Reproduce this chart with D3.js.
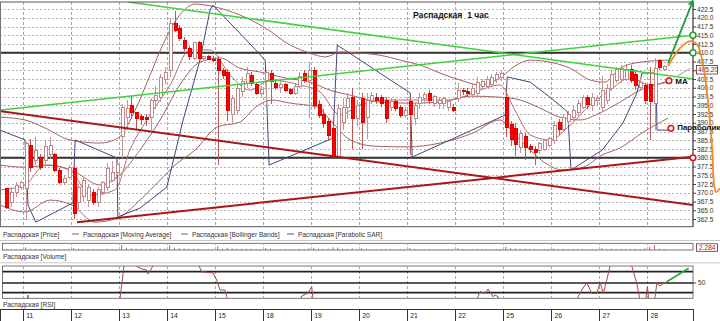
<!DOCTYPE html>
<html><head><meta charset="utf-8">
<script src="https://cdn.jsdelivr.net/npm/d3@7/dist/d3.min.js"></script>
<style>body{margin:0;background:#fff}svg{display:block;font-family:"Liberation Sans",Arial,sans-serif}</style>
</head><body><svg id="c" width="720" height="321"></svg>
<script>
// ---------------- data ----------------
const title = "Распадская  1 час";
const dayLabels = ["11","12","13","14","15","18","19","20","21","22","25","26","27","28"];
const barsPerDay = 10;
const firstSlot = -4;
const priceTicks = [362.5,365,367.5,370,372.5,375,377.5,380,382.5,385,387.5,390,392.5,395,397.5,400,402.5,405,407.5,410,412.5,415,417.5,420,422.5];
const lastPrice = 405.20;
const lastVolume = "2.284";
// candles: [open, high, low, close]
const ohlc = [
 [371.3,371.5,365.5,365.9],[367.1,371.6,365.9,370.2],[370.2,373.1,368.8,372.2],[371.5,373.3,370.8,372.8],
 // 11
 [371.3,384.5,362.2,384.2],[383.6,385.5,376.0,377.2],[379.3,385.9,377.9,382.2],[380.2,381.0,376.5,377.3],[379.3,385.1,377.0,383.1],
 [380.8,385.9,379.6,383.6],[380.8,381.5,375.8,376.5],[376.5,377.0,372.5,373.0],[373.0,375.0,372.2,374.2],[374.5,377.8,374.0,377.2],
 // 12
 [377.0,378.5,362.6,364.2],[367.1,372.5,365.3,371.6],[368.8,374.5,367.5,373.6],[367.9,372.5,365.9,371.6],[370.2,371.0,366.5,367.1],
 [367.1,371.6,365.9,370.8],[370.2,373.5,369.5,372.8],[371.6,378.5,370.5,377.0],[373.6,379.0,373.0,375.9],[375.9,379.5,375.0,378.0],
 // 13
 [386.0,395.5,380.0,394.5],[391.6,396.5,388.0,394.2],[395.0,397.7,391.0,392.8],[392.8,393.0,388.0,391.3],[391.9,392.5,389.5,391.0],
 [391.6,392.5,389.0,390.8],[391.6,397.0,388.0,396.5],[396.5,400.5,394.0,397.9],[397.3,404.0,396.0,402.8],[402.5,406.0,401.0,404.5],
 // 14
 [405.0,420.0,403.0,418.5],[418.5,422.0,416.0,416.5],[417.0,418.0,413.5,414.2],[413.5,414.5,410.5,411.3],[411.3,412.0,408.0,408.8],
 [408.5,413.0,408.0,412.8],[412.8,413.5,408.0,408.5],[408.5,409.2,407.8,408.8],[408.8,409.5,408.0,408.2],[408.2,409.0,407.5,408.0],
 // 15
 [408.0,409.0,378.0,404.8],[404.8,405.6,402.5,403.5],[404.5,405.5,390.5,393.6],[392.5,398.0,390.0,397.0],[393.6,401.0,392.5,399.9],
 [399.0,403.0,397.5,401.8],[401.3,406.0,400.0,404.2],[403.6,404.5,400.5,401.3],[400.8,401.5,397.8,398.5],[398.5,400.5,397.5,399.5],
 // 18
 [402.0,405.0,395.5,404.5],[404.0,405.0,395.5,401.8],[401.3,402.5,399.5,400.0],[400.0,402.0,398.5,401.0],[400.8,401.5,398.8,399.3],
 [399.5,400.0,397.8,398.5],[398.5,401.5,398.0,400.5],[400.5,404.5,400.0,403.3],[404.0,405.0,401.5,402.2],[402.2,407.5,391.5,405.0],
 // 19
 [405.0,406.0,394.0,394.8],[395.3,396.5,391.5,392.2],[392.5,394.0,388.5,389.8],[390.5,391.5,385.0,386.3],[388.5,389.5,380.0,380.5],
 [380.5,395.5,380.0,394.2],[390.2,397.0,388.0,394.5],[394.5,398.5,391.0,397.0],[397.3,400.0,382.5,391.3],[391.3,396.5,389.0,395.0],
 // 20
 [397.0,398.5,382.5,390.2],[391.5,398.5,385.5,396.5],[396.5,398.8,395.5,397.8],[397.3,398.5,395.5,396.5],[397.3,398.0,394.5,395.5],
 [396.5,397.5,390.0,391.3],[394.5,397.0,393.5,396.0],[396.0,396.8,393.5,394.2],[394.5,395.2,391.5,392.2],[392.2,394.5,391.5,393.5],
 // 21
 [396.0,397.5,380.8,392.5],[391.3,396.0,389.5,395.0],[395.5,398.5,394.0,397.3],[397.0,398.8,395.5,398.0],[398.5,399.5,395.5,396.5],
 [395.5,398.0,394.5,397.5],[395.5,397.5,394.0,396.5],[395.5,397.5,394.0,397.0],[394.5,396.5,393.5,396.0],[394.5,395.5,393.0,393.5],
 // 22
 [397.0,401.3,396.0,399.3],[399.3,400.0,398.0,398.8],[399.0,399.8,397.5,398.3],[398.2,401.0,397.5,399.8],[398.5,403.0,397.5,401.6],
 [400.5,402.5,399.5,401.8],[400.5,403.5,400.0,402.5],[401.0,404.0,400.5,403.0],[402.5,404.5,401.5,403.7],[403.0,405.0,401.8,404.0],
 // 25
 [397.3,399.5,386.0,388.6],[389.5,390.5,383.5,385.3],[388.5,390.0,380.5,383.8],[383.0,388.0,381.5,386.8],[386.0,387.0,379.5,383.0],
 [383.3,384.0,381.5,382.5],[382.5,383.3,378.0,381.5],[382.0,384.5,381.0,384.0],[382.5,385.5,382.0,385.0],[383.5,386.0,383.0,385.5],
 // 26
 [385.0,390.5,384.0,389.3],[390.2,391.0,386.5,388.0],[388.0,392.5,387.5,391.6],[390.5,393.5,389.5,392.5],[391.5,395.0,390.5,393.6],
 [392.8,396.5,392.0,395.5],[394.5,398.0,394.0,397.3],[397.3,398.0,394.0,395.3],[395.0,398.5,393.5,397.3],[396.5,397.8,395.0,396.8],
 // 27
 [394.5,403.5,393.0,399.3],[396.5,401.0,395.5,399.9],[399.9,405.0,399.0,403.8],[402.0,406.0,401.5,405.2],[402.5,406.5,401.5,405.5],
 [402.5,406.8,401.8,405.2],[405.2,406.5,401.5,402.2],[403.8,405.0,399.5,400.6],[400.0,403.0,399.0,401.5],[400.6,401.5,395.5,396.5],
 // 28
 [401.0,406.0,385.0,396.0],[395.5,408.5,388.0,405.5],[407.8,408.2,405.0,405.8],[405.2,406.5,404.8,406.0]
];
const volume = [
 0.4,0.3,0.3,0.4,
 1.2,0.6,0.5,0.4,0.5,0.4,0.5,0.4,0.3,0.4,
 0.9,0.5,0.4,0.4,0.3,0.4,0.3,0.5,0.4,0.4,
 2.2,1.0,0.7,0.6,0.5,0.4,0.6,0.5,0.7,0.6,
 2.0,1.1,0.8,0.7,0.6,0.6,0.5,0.3,0.3,0.3,
 1.6,0.6,1.0,0.7,0.6,0.5,0.6,0.5,0.4,0.4,
 0.9,0.6,0.4,0.4,0.4,0.3,0.4,0.5,0.4,0.8,
 1.0,0.6,0.5,0.6,1.2,1.1,0.6,0.5,0.7,0.5,
 0.8,0.6,0.4,0.4,0.4,0.5,0.4,0.4,0.4,0.3,
 0.9,0.5,0.4,0.4,0.4,0.3,0.3,0.3,0.3,0.3,
 0.8,0.4,0.3,0.4,0.5,0.4,0.4,0.4,0.4,0.4,
 1.4,0.8,0.7,0.5,0.6,0.4,0.5,0.4,0.4,0.4,
 0.7,0.5,0.5,0.4,0.4,0.4,0.5,0.4,0.4,0.3,
 0.8,0.5,0.6,0.5,0.4,0.4,0.5,0.5,0.4,0.7,
 1.5,2.3,0.6,0.4
];
// indicator lines: [slot, price]
const bbUpper = [[-4.85,391.6],[0.35,390.8],[4.5,388.5],[9.7,385.1],[16,384.2],[19.7,385.6],[23.3,393.6],[26.4,403.6],[29.5,413.6],[32.6,420.8],[35.8,423.9],[39.9,423.1],[45.1,420.8],[50.4,417.1],[55.6,412.2],[59.7,409.9],[62.9,408.8],[66,410.2],[70.1,409.9],[74.3,409.3],[78.5,407.9],[82.6,406.5],[86.8,404.2],[91,402.2],[95.1,400.8],[99.3,402.8],[102.4,406.2],[105.6,407.9],[109.7,407.3],[113.9,405.6],[118.1,402.2],[121.1,401.6],[124.3,405.6],[128.5,407.3],[134.3,407.9]];
const bbMiddle = [[-4.85,377.9],[0.35,377.3],[5.6,377.9],[10.8,375.9],[16,372.2],[20.1,375.1],[24.3,382.2],[28.5,390.8],[32.6,400.8],[36.8,407.3],[41,408.5],[45.1,405.6],[49.3,404.5],[54.5,402.8],[59.7,401.6],[63.9,399.3],[68.1,397.9],[74.3,395.9],[80.6,395.6],[86.8,395.9],[93.1,397.6],[99.3,397.3],[103.5,396.5],[107.6,394.2],[111.8,391.6],[116,390.8],[120.1,392.8],[124.3,395.9],[128.5,399.3],[134.3,401.6]];
const bbLower = [[-4.85,366.5],[0.35,364.5],[5.6,367.9],[10.1,366.5],[14.9,361.6],[19.7,362.8],[24.3,367.9],[28.5,373.6],[31.6,377.9],[35.8,382.2],[40.4,388.8],[45.1,390.2],[48.7,394.8],[51.8,396.5],[55.6,395.6],[61.2,394.5],[64.3,390.2],[68.1,385.1],[73.3,383.3],[79.9,383.1],[86.8,384.2],[93.7,387.1],[99.3,390.8],[102.4,386.5],[105.6,382.2],[108.7,378.5],[112.4,376.5],[116.6,377.3],[120.6,380.8],[124.3,382.8],[129.1,387.3],[134.3,391.3]];
const movingAvg = [[-4.85,370.8],[0.35,372.2],[4.5,377.9],[9.7,376.5],[13.9,369.3],[19.1,370.8],[22.2,382.2],[26.4,392.2],[30.6,400.8],[34.7,410.8],[38.9,410.8],[43.1,403.6],[47.2,399.3],[51.4,402.2],[57.6,400.8],[61.8,398.8],[66,392.2],[70.1,395.1],[76.4,396.5],[82.6,396.5],[88.9,396.5],[95.1,399.3],[99.3,400.8],[102.4,393.6],[105.6,386.5],[109.7,385.1],[113.9,389.3],[118.1,395.1],[122.2,399.3],[126.4,402.8],[130.6,400.8],[134.5,402.0]];
const parabolicSar = [[-4.85,387.9],[0.35,385.1],[0.98,366.5],[2.6,361.6],[10.35,367.1],[10.8,385.1],[19.5,379.9],[19.7,363.1],[24.3,365.6],[29.9,371.6],[33.3,390.8],[36.8,407.9],[38.9,422.2],[39.5,423.6],[45.1,415.6],[50.4,407.9],[51.2,377.9],[64.5,385.6],[65.4,412.2],[80.6,398.5],[81,380.2],[100.4,392.2],[100.8,403.1],[105.6,401.6],[109.7,397.3],[113.4,393.1],[114.1,376.5],[120.6,382.2],[124.9,389.9],[127.8,398.5],[128.9,404.2],[131.8,404.2],[132,387.9],[134.9,387.9]];
// drawn studies
const greenLines = [[[21.8,424.5],[139.5,402.5]],[[-4.85,393.6],[139.5,415.0]]];
const redLines = [[[-4.85,393.3],[139.5,366.5]],[[11.2,361.6],[139.5,380.3]]];
const levelLines = [410, 380];
const arrowUp = [[134.3,407.0],[139.5,424.9]];
const orangePath = [[134.3,406.2],[136.8,411.3],[138.9,413.3],[140.4,412.2],[141.6,406.5],[142.6,396.5],[143.5,382.2],[143.9,372.2],[144.3,370.2],[145.1,371.3]];
const grayPath = [[136.2,403.3],[138.9,405.6]];
const greenMarks = [[139.5,415.0],[139.5,410.0]];
const redMarks = [[139.5,380.0],[134.5,402.0],[134.9,388.4]];
const noteLabels = [{t:"MA",s:135.8,p:402.0},{t:"Параболик",s:136.2,p:388.6}];
// RSI
const rsiLevels = [60,50,41.5];
const rsi = [[-4.44,30],[0.77,30],[0.98,39.4],[1.19,30],[19.73,30],[20.15,36.5],[20.98,65],[21.4,75],[23.27,75],[23.69,64.4],[24.67,62.4],[25.71,61.5],[25.98,58],[26.75,63.2],[27.08,65.9],[27.65,75],[35.77,75],[36.6,65],[37.17,60],[39.52,58.8],[40.29,52.6],[40.98,43.8],[42.02,43.8],[42.38,37.9],[42.85,30],[57.23,30],[58,38.5],[59.31,41.2],[60.08,46.7],[60.29,37.9],[60.56,30],[94.31,30],[94.73,37.9],[95.15,42.3],[96.19,40.9],[96.81,44.7],[97.85,37.9],[98.27,39.4],[98.9,37.9],[99.31,30],[115.15,30],[115.56,37.9],[116.33,43.8],[117.38,50.3],[118.42,40.9],[119.46,40.9],[120.15,50.3],[120.83,40.9],[121.54,52.6],[122.23,65],[122.65,75],[126.19,75],[126.75,65],[127.79,49.7],[128.33,37.9],[128.69,30],[129.52,30],[129.73,37.9],[130,46.7],[130.21,37.9],[130.56,30],[131.19,30],[131.6,37.9],[131.96,49.7],[132.65,47.4],[133.33,49.7],[134.04,51.1]];
const rsiArrow = [[134.04,51.1],[138.6,63]];

// ---------------- drawing ----------------
const svg = d3.select("#c");
const R = 693, T = 2, B = 226.7;
const x = d3.scaleLinear().domain([-4.85,139.5]).range([0,R]);
const y = d3.scaleLinear().domain([360.3,424.5]).range([B,T]);
const yVol = d3.scaleLinear().domain([0,3]).range([250,243.3]);
const yRsi = d3.scaleLinear().domain([36.5,65]).range([298.3,266]);
const daySlots = dayLabels.map((d,i)=>i*barsPerDay);

svg.append("rect").attr("width",720).attr("height",321).attr("fill","#fff");
const defs = svg.append("defs");
defs.append("clipPath").attr("id","cp").append("rect").attr("x",1).attr("y",T).attr("width",R-1).attr("height",B-T);
defs.append("clipPath").attr("id","cr").append("rect").attr("x",2).attr("y",266).attr("width",R-2).attr("height",32.3);

const main = svg.append("g");
const clip = main.append("g").attr("clip-path","url(#cp)");
// grid
clip.selectAll(".hg").data(priceTicks).join("line")
 .attr("x1",0).attr("x2",R).attr("y1",d=>Math.round(y(d))+0.5).attr("y2",d=>Math.round(y(d))+0.5)
 .attr("stroke","#b4b4b4").attr("stroke-dasharray","2,2").attr("stroke-width",1);
clip.selectAll(".vg").data(daySlots).join("line")
 .attr("x1",d=>Math.round(x(d))+0.5).attr("x2",d=>Math.round(x(d))+0.5).attr("y1",T).attr("y2",B)
 .attr("stroke","#a8a8a8").attr("stroke-dasharray","3,2");
// level lines
clip.selectAll(".lv").data(levelLines).join("line")
 .attr("x1",0).attr("x2",R).attr("y1",d=>y(d)).attr("y2",d=>y(d))
 .attr("stroke","#333").attr("stroke-width",1.8);

const line = d3.line().x(d=>x(d[0])).y(d=>y(d[1]));
const smooth = d3.line().x(d=>x(d[0])).y(d=>y(d[1])).curve(d3.curveMonotoneX);
[bbUpper,bbMiddle,bbLower].forEach(b=>clip.append("path").attr("d",smooth(b)).attr("fill","none").attr("stroke","#a86060").attr("stroke-width",1));
clip.append("path").attr("d",smooth(movingAvg)).attr("fill","none").attr("stroke","#b27070").attr("stroke-width",1);
clip.append("path").attr("d",line(parabolicSar)).attr("fill","none").attr("stroke","#45457d").attr("stroke-width",1);

// candles
const cg = clip.append("g").attr("shape-rendering","crispEdges");
const cd = ohlc.map((d,i)=>({s:firstSlot+i,o:d[0],h:d[1],l:d[2],c:d[3]}));
cg.selectAll(".wk").data(cd).join("line")
 .attr("x1",d=>Math.round(x(d.s+0.5))+0.5).attr("x2",d=>Math.round(x(d.s+0.5))+0.5)
 .attr("y1",d=>y(d.h)).attr("y2",d=>y(d.l)).attr("stroke",d=>d.c<d.o?"#b85a5a":"#c49494");
cg.selectAll(".bd").data(cd).join("rect")
 .attr("x",d=>Math.round(x(d.s+0.5))-1).attr("width",3)
 .attr("y",d=>y(Math.max(d.o,d.c))).attr("height",d=>Math.max(1,Math.abs(y(d.o)-y(d.c))))
 .attr("fill",d=>d.c<d.o?"#ff0000":"#ffffff").attr("stroke",d=>d.c<d.o?"#e00000":"#c08888").attr("stroke-width",1);

// trend lines
greenLines.forEach(l=>clip.append("path").attr("d",line(l)).attr("stroke","#3fd23f").attr("stroke-width",1.6).attr("fill","none"));
redLines.forEach(l=>clip.append("path").attr("d",line(l)).attr("stroke","#a81818").attr("stroke-width",2).attr("fill","none"));

// frame & right axis
main.append("line").attr("x1",0).attr("x2",R).attr("y1",T).attr("y2",T).attr("stroke","#555");
main.append("line").attr("x1",0.5).attr("x2",0.5).attr("y1",T).attr("y2",B).attr("stroke","#777");
main.append("line").attr("x1",0).attr("x2",R).attr("y1",B).attr("y2",B).attr("stroke","#555");
main.append("line").attr("x1",R).attr("x2",R).attr("y1",T).attr("y2",B).attr("stroke","#333").attr("stroke-width",1.2);
const ax = main.append("g").attr("transform",`translate(${R},0)`)
 .call(d3.axisRight(y).tickValues(priceTicks).tickSize(3).tickFormat(d=>Math.abs(d-lastPrice)<1.25?"":d3.format(".1f")(d)));
ax.select(".domain").remove();
ax.selectAll("text").attr("font-size","6.6px").attr("fill","#333").attr("x",4);
ax.selectAll("line").attr("stroke","#444");

// last price box
main.append("rect").attr("x",R+3.5).attr("y",y(lastPrice)-4).attr("width",21).attr("height",8.5).attr("fill","#fff").attr("stroke","#6a2a2a").attr("stroke-width",0.8);
main.append("text").attr("x",R+5).attr("y",y(lastPrice)+2.6).attr("font-size","6.6px").attr("fill","#7a1e1e").text(lastPrice.toFixed(2));

// annotations
main.append("path").attr("d",line(grayPath)).attr("stroke","#b8b8b8").attr("stroke-width",1.2).attr("fill","none");
main.append("path").attr("d",d3.line().x(d=>x(d[0])).y(d=>y(d[1])).curve(d3.curveCatmullRom)(orangePath)).attr("stroke","#f08a24").attr("stroke-width",1.8).attr("fill","none");
main.append("path").attr("d",line(arrowUp)).attr("stroke","#1e9a3a").attr("stroke-width",1.8).attr("fill","none");
{
 const p1=[x(arrowUp[0][0]),y(arrowUp[0][1])], p2=[x(arrowUp[1][0]),y(arrowUp[1][1])];
 const a=Math.atan2(p2[1]-p1[1],p2[0]-p1[0]);
 const L=6,w=0.45;
 main.append("path").attr("d",`M${p2[0]},${p2[1]}L${p2[0]-L*Math.cos(a-w)},${p2[1]-L*Math.sin(a-w)}M${p2[0]},${p2[1]}L${p2[0]-L*Math.cos(a+w)},${p2[1]-L*Math.sin(a+w)}`)
  .attr("stroke","#1e9a3a").attr("stroke-width",1.6).attr("fill","none");
}
main.selectAll(".gm").data(greenMarks).join("circle").attr("cx",d=>x(d[0])).attr("cy",d=>y(d[1])).attr("r",3)
 .attr("fill","#fff").attr("stroke","#2a9a2a").attr("stroke-width",1.5);
main.selectAll(".rm").data(redMarks).join("circle").attr("cx",d=>x(d[0])).attr("cy",d=>y(d[1])).attr("r",2.8)
 .attr("fill","#fff").attr("stroke","#e01010").attr("stroke-width",1.5);
main.selectAll(".nl").data(noteLabels).join("text").attr("x",d=>x(d.s)).attr("y",d=>y(d.p)+2.8)
 .attr("font-size","8px").attr("font-weight","bold").attr("fill","#111").text(d=>d.t);

// title
main.append("text").attr("x",413).attr("y",18).attr("font-size","8.6px").attr("font-weight","bold").attr("fill","#111")
 .style("white-space","pre").text(title);

// legend
const lg = svg.append("g").attr("font-size","6.6px").attr("fill","#333");
const legendItems = [{t:"Распадская [Price]",x:3,c:null},{t:"Распадская [Moving Average]",x:83,c:"#c07878"},{t:"Распадская [Bollinger Bands]",x:192,c:"#c07878"},{t:"Распадская [Parabolic SAR]",x:298,c:"#7070a8"}];
legendItems.forEach(d=>{
 if(d.c) lg.append("line").attr("x1",d.x-11).attr("x2",d.x-4).attr("y1",234).attr("y2",234).attr("stroke",d.c).attr("stroke-width",1.3);
 lg.append("text").attr("x",d.x).attr("y",236.5).text(d.t);
});
svg.append("line").attr("x1",0).attr("x2",720).attr("y1",240.5).attr("y2",240.5).attr("stroke","#c8c8c8");

// volume panel
svg.append("rect").attr("x",2.5).attr("y",243.3).attr("width",R-2.5).attr("height",6.7).attr("fill","#fff").attr("stroke","#555").attr("stroke-width",0.8);
svg.selectAll(".vv").data(daySlots).join("line").attr("x1",d=>Math.round(x(d))+0.5).attr("x2",d=>Math.round(x(d))+0.5)
 .attr("y1",243.3).attr("y2",250).attr("stroke","#b0b0b0").attr("stroke-dasharray","2,2");
svg.selectAll(".vb").data(volume).join("line")
 .attr("x1",(d,i)=>x(firstSlot+i+0.5)).attr("x2",(d,i)=>x(firstSlot+i+0.5))
 .attr("y1",250).attr("y2",d=>yVol(d)).attr("stroke","#b06a6a").attr("stroke-width",1);
svg.append("rect").attr("x",R+3.5).attr("y",243.8).attr("width",21).attr("height",7.5).attr("fill","#fff").attr("stroke","#6a2a2a").attr("stroke-width",0.8);
svg.append("text").attr("x",R+6).attr("y",249.8).attr("font-size","6.6px").attr("fill","#c01010").text(lastVolume);
svg.append("text").attr("x",3).attr("y",259).attr("font-size","6.6px").attr("fill","#333").text("Распадская [Volume]");
svg.append("line").attr("x1",0).attr("x2",720).attr("y1",262.8).attr("y2",262.8).attr("stroke","#c8c8c8");

// RSI panel
svg.append("rect").attr("x",2.5).attr("y",266).attr("width",R-2.5).attr("height",32.3).attr("fill","#fff").attr("stroke","#555").attr("stroke-width",0.8);
svg.selectAll(".rv").data(daySlots).join("line").attr("x1",d=>Math.round(x(d))+0.5).attr("x2",d=>Math.round(x(d))+0.5)
 .attr("y1",266).attr("y2",298.3).attr("stroke","#a8a8a8").attr("stroke-dasharray","3,2");
svg.selectAll(".rl").data(rsiLevels).join("line").attr("x1",2.5).attr("x2",R).attr("y1",d=>yRsi(d)).attr("y2",d=>yRsi(d))
 .attr("stroke","#222").attr("stroke-width",1.6);
svg.append("g").attr("clip-path","url(#cr)").append("path")
 .attr("d",d3.line().x(d=>x(d[0])).y(d=>yRsi(d[1]))(rsi)).attr("fill","none").attr("stroke","#a84848").attr("stroke-width",1);
svg.append("path").attr("d",d3.line().x(d=>x(d[0])).y(d=>yRsi(d[1]))(rsiArrow)).attr("stroke","#22aa33").attr("stroke-width",1.6).attr("fill","none");
svg.append("line").attr("x1",R).attr("x2",R+3).attr("y1",yRsi(50)).attr("y2",yRsi(50)).attr("stroke","#444");
svg.append("text").attr("x",R+5).attr("y",yRsi(50)+2.4).attr("font-size","6.6px").attr("fill","#333").text("50");
svg.append("text").attr("x",3).attr("y",307).attr("font-size","6.6px").attr("fill","#333").text("Распадская [RSI]");

// bottom time axis
svg.append("rect").attr("x",0.5).attr("y",309.5).attr("width",R).attr("height",12).attr("fill","#fff").attr("stroke","#333").attr("stroke-width",1);
svg.selectAll(".ds").data(daySlots).join("line").attr("x1",d=>Math.round(x(d))+0.5).attr("x2",d=>Math.round(x(d))+0.5)
 .attr("y1",309.5).attr("y2",321).attr("stroke","#333");
svg.selectAll(".dl").data(dayLabels).join("text").attr("x",(d,i)=>x(daySlots[i])+3).attr("y",318)
 .attr("font-size","6.8px").attr("fill","#222").text(d=>d);
</script></body></html>
